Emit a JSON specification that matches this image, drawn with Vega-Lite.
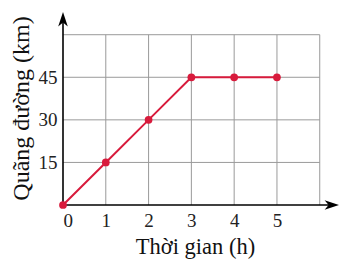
{
  "$schema": "https://vega.github.io/schema/vega-lite/v6.json",
  "autosize": "none",
  "width": 276,
  "height": 193,
  "padding": {"left": 63, "top": 12, "right": 18, "bottom": 60},
  "background": "white",
  "config": {
    "view": {"stroke": null},
    "font": "Liberation Serif"
  },
  "datasets": {
    "trip": [
      {"t": 0, "d": 0},
      {"t": 1, "d": 15},
      {"t": 2, "d": 30},
      {"t": 3, "d": 45},
      {"t": 4, "d": 45},
      {"t": 5, "d": 45}
    ],
    "vgrid": [
      {"gx": 1, "y0": 0, "y1": 60},
      {"gx": 2, "y0": 0, "y1": 60},
      {"gx": 3, "y0": 0, "y1": 60},
      {"gx": 4, "y0": 0, "y1": 60},
      {"gx": 5, "y0": 0, "y1": 60},
      {"gx": 6, "y0": 0, "y1": 60}
    ],
    "hgrid": [
      {"gy": 15, "x0": 0, "x1": 6},
      {"gy": 30, "x0": 0, "x1": 6},
      {"gy": 45, "x0": 0, "x1": 6},
      {"gy": 60, "x0": 0, "x1": 6}
    ]
  },
  "layer": [
    {
      "data": {"name": "vgrid"},
      "mark": {"type": "rule", "color": "#9a9a9a", "strokeWidth": 1},
      "encoding": {
        "x": {"field": "gx", "type": "quantitative", "scale": {"domain": [0, 6.45], "nice": false, "zero": false},
          "axis": {"values": [0, 1, 2, 3, 4, 5], "domain": false, "ticks": false, "grid": false, "labelFontSize": 19, "labelColor": "#222", "labelPadding": 6, "labelFont": "Liberation Serif", "title": "Thời gian (h)", "titleFontSize": 22.5, "titleFontWeight": "normal", "titleColor": "#111", "titlePadding": 5, "titleX": 132, "titleFont": "Liberation Serif"}},
        "y": {"field": "y0", "type": "quantitative", "scale": {"domain": [0, 68], "nice": false, "zero": false},
          "axis": {"values": [15, 30, 45], "domain": false, "ticks": false, "grid": false, "labelFontSize": 19, "labelColor": "#222", "labelPadding": 6, "labelFont": "Liberation Serif", "title": "Quãng đường (km)", "titleFontSize": 24, "titleFontWeight": "normal", "titleColor": "#111", "titlePadding": 5, "titleY": 96, "titleFont": "Liberation Serif"}},
        "y2": {"field": "y1"}
      }
    },
    {
      "data": {"name": "hgrid"},
      "mark": {"type": "rule", "color": "#9a9a9a", "strokeWidth": 1},
      "encoding": {
        "y": {"field": "gy", "type": "quantitative"},
        "x": {"field": "x0", "type": "quantitative"},
        "x2": {"field": "x1"}
      }
    },
    {
      "data": {"values": [{"a": 0}]},
      "mark": {"type": "rule", "color": "#000", "strokeWidth": 1.6},
      "encoding": {
        "x": {"datum": 0, "type": "quantitative"},
        "x2": {"datum": 6.3},
        "y": {"datum": 0, "type": "quantitative"}
      }
    },
    {
      "data": {"values": [{"a": 0}]},
      "mark": {"type": "rule", "color": "#000", "strokeWidth": 1.6},
      "encoding": {
        "x": {"datum": 0, "type": "quantitative"},
        "y": {"datum": 0, "type": "quantitative"},
        "y2": {"datum": 66}
      }
    },
    {
      "data": {"values": [{"a": 0}]},
      "mark": {"type": "point", "filled": true, "color": "#000", "opacity": 1, "size": 256, "shape": "M0,0 L-1.8,-0.6 L-1.3,0 L-1.8,0.6 Z"},
      "encoding": {
        "x": {"datum": 6.45, "type": "quantitative"},
        "y": {"datum": 0, "type": "quantitative"}
      }
    },
    {
      "data": {"values": [{"a": 0}]},
      "mark": {"type": "point", "filled": true, "color": "#000", "opacity": 1, "size": 256, "shape": "M0,0 L-0.6,1.8 L0,1.3 L0.6,1.8 Z"},
      "encoding": {
        "x": {"datum": 0, "type": "quantitative"},
        "y": {"datum": 68, "type": "quantitative"}
      }
    },
    {
      "data": {"name": "trip"},
      "mark": {"type": "line", "color": "#d81b3c", "strokeWidth": 2, "point": {"filled": true, "color": "#d81b3c", "size": 60, "opacity": 1}},
      "encoding": {
        "x": {"field": "t", "type": "quantitative"},
        "y": {"field": "d", "type": "quantitative"}
      }
    }
  ]
}
